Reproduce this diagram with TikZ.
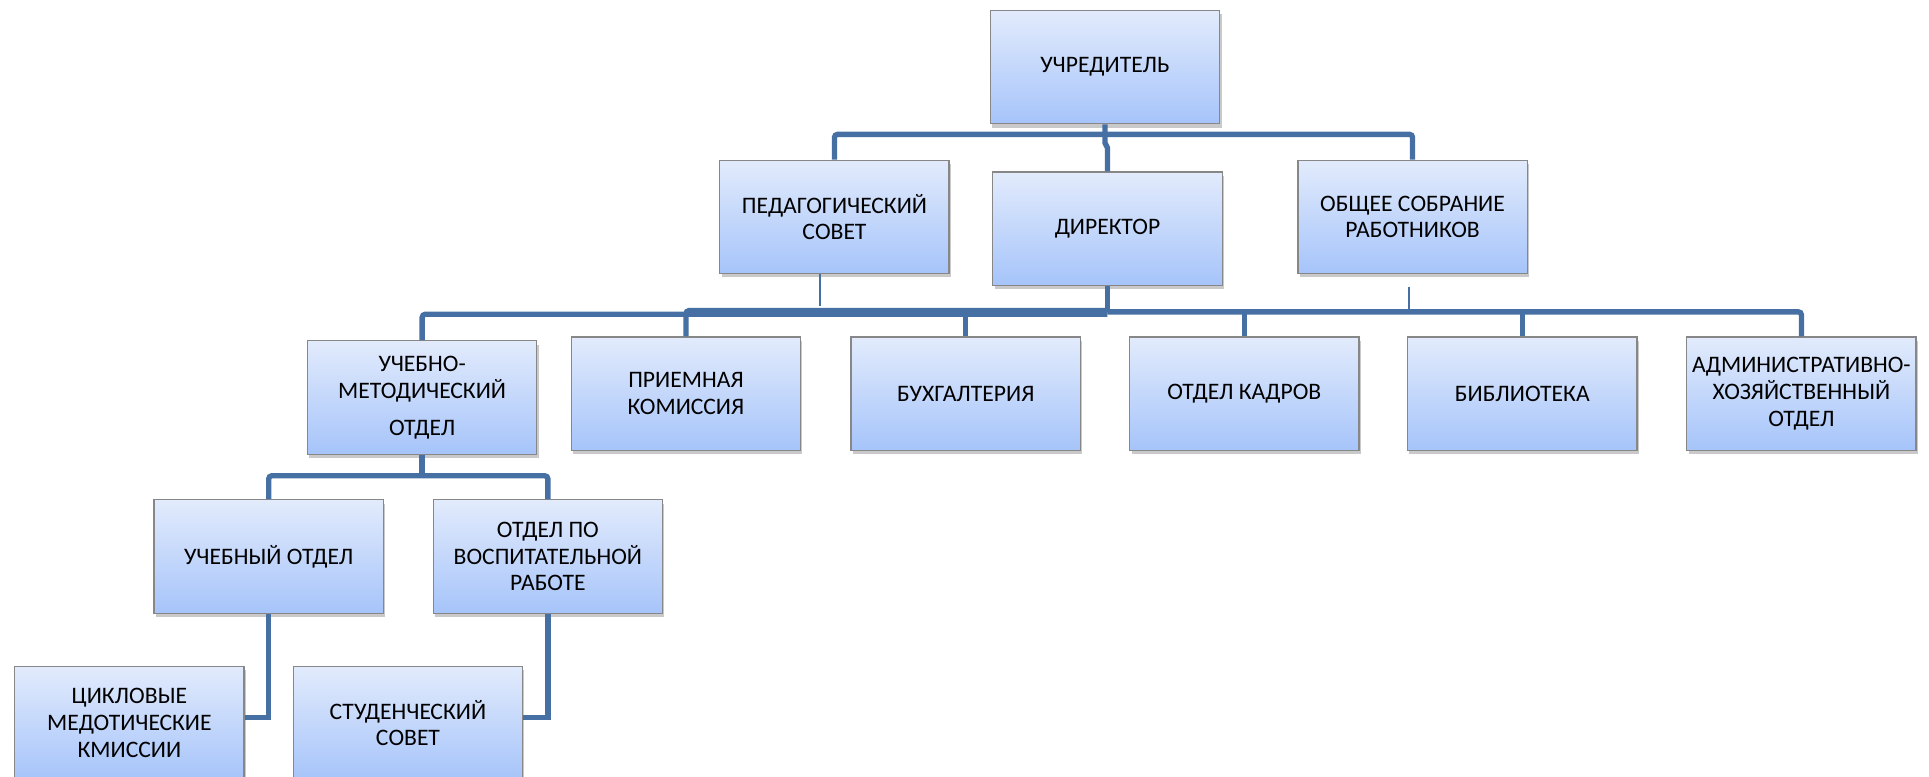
\documentclass[tikz,border=0pt]{standalone}
\usepackage{fontspec}
\setmainfont{Carlito}
\usetikzlibrary{shadows}
\definecolor{conncol}{RGB}{70,112,164}
\definecolor{boxtop}{RGB}{226,235,252}
\definecolor{boxbot}{RGB}{166,196,250}
\definecolor{boxline}{RGB}{135,135,135}
\begin{document}
\begin{tikzpicture}[x=0.6pt,y=-0.6pt,
  orgbox/.style={rectangle, minimum width=111.6pt, minimum height=55.2pt, inner sep=1pt,
    top color=boxtop, bottom color=boxbot, draw=boxline, line width=0.6pt,
    align=center, font=\fontsize{11.5}{13}\selectfont,
    drop shadow={opacity=0.3, shadow xshift=0.9pt, shadow yshift=-1.8pt, fill=black!70}},
  conn/.style={draw=conncol, line width=2.6pt, rounded corners=1.5pt},
  thinconn/.style={draw=conncol, line width=0.8pt}]
\useasboundingbox (0,0) rectangle (1565,629.6);
% nodes
\node[orgbox] (U) at (896.5,54.5) {УЧРЕДИТЕЛЬ};
\node[orgbox] (P) at (677,176) {ПЕДАГОГИЧЕСКИЙ\\СОВЕТ};
\node[orgbox] (D) at (898.5,185.5) {ДИРЕКТОР};
\node[orgbox] (O) at (1146,176) {ОБЩЕЕ СОБРАНИЕ\\РАБОТНИКОВ};
\node[orgbox] (UM) at (342.5,322.5) {УЧЕБНО-\\МЕТОДИЧЕСКИЙ\\[5pt]ОТДЕЛ};
\node[orgbox] (PK) at (556.5,319.5) {ПРИЕМНАЯ\\КОМИССИЯ};
\node[orgbox] (B) at (783.5,319.5) {БУХГАЛТЕРИЯ};
\node[orgbox] (OK) at (1009.5,319.5) {ОТДЕЛ КАДРОВ};
\node[orgbox] (BL) at (1235,319.5) {БИБЛИОТЕКА};
\node[orgbox] (AX) at (1461.5,319.5) {АДМИНИСТРАТИВНО-\\ХОЗЯЙСТВЕННЫЙ\\ОТДЕЛ};
\node[orgbox] (UO) at (218,451.5) {УЧЕБНЫЙ ОТДЕЛ};
\node[orgbox] (OV) at (444.5,451.5) {ОТДЕЛ ПО\\ВОСПИТАТЕЛЬНОЙ\\РАБОТЕ};
\node[orgbox] (CM) at (105,586.5) {ЦИКЛОВЫЕ\\МЕДОТИЧЕСКИЕ\\КМИССИИ};
\node[orgbox] (SS) at (331,586.5) {СТУДЕНЧЕСКИЙ\\СОВЕТ};
% bus coordinates
\coordinate (b1) at (0,109);
\coordinate (b2) at (0,253);
\coordinate (b2l) at (0,255);
\coordinate (b2u) at (0,252);
\coordinate (b3) at (0,386);
\coordinate (jog) at (0,120);
% level 1
\draw[conn] (P.north) -- (P.north |- b1) -- (O.north |- b1) -- (O.north);
\draw[conn, rounded corners=0pt] (U.south) -- (U.south |- b1) -- ++(0,7) -- (D.north |- jog) -- (D.north);
% level 2
\draw[conn] (D.south) -- (D.south |- b2);
\draw[conn] (UM.north) -- (UM.north |- b2l) -- (D.south |- b2l);
\draw[conn] (PK.north) -- (PK.north |- b2u) -- (D.south |- b2u);
\draw[conn] (D.south |- b2) -- (AX.north |- b2) -- (AX.north);
\draw[conn] (B.north) -- (B.north |- b2);
\draw[conn] (OK.north) -- (OK.north |- b2);
\draw[conn] (BL.north) -- (BL.north |- b2);
% thin lines
\draw[thinconn] ([xshift=-7.2pt]P.south) -- ++(0,26);
\draw[thinconn] ([xshift=-1.8pt,yshift=-6pt]O.south) -- ++(0,18);
% level 3
\draw[conn] (UM.south) -- (UM.south |- b3);
\draw[conn] (UO.north) -- (UO.north |- b3) -- (OV.north |- b3) -- (OV.north);
% level 4
\draw[conn, rounded corners=0pt] (UO.south) |- ([yshift=2.7pt]CM.east);
\draw[conn, rounded corners=0pt] (OV.south) |- ([yshift=2.7pt]SS.east);
\end{tikzpicture}
\end{document}
